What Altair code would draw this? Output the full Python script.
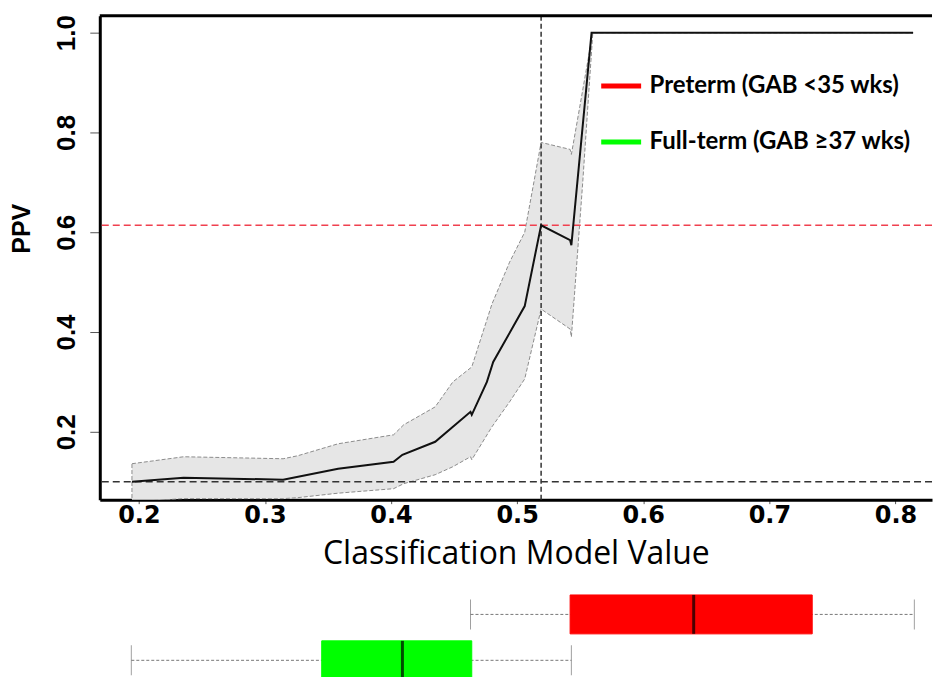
import altair as alt
import pandas as pd

# PPV curve against the classification model value
cmv = [0.1945, 0.2355, 0.3144, 0.358, 0.402, 0.409, 0.435, 0.463, 0.464,
       0.476, 0.481, 0.506, 0.519, 0.542, 0.543, 0.559, 0.814]
ppv = [0.100, 0.108, 0.104, 0.126, 0.140, 0.154, 0.180, 0.240, 0.234,
       0.300, 0.340, 0.452, 0.614, 0.584, 0.574, 1.000, 1.000]

# Confidence band around the PPV curve
band_cmv = [0.1945, 0.2355, 0.3144, 0.326, 0.358, 0.402, 0.410, 0.435, 0.449,
            0.463, 0.464, 0.480, 0.494, 0.506, 0.519, 0.542, 0.543, 0.552,
            0.560, 0.814]
band_hi = [0.136, 0.150, 0.146, 0.152, 0.176, 0.194, 0.214, 0.250, 0.300,
           0.328, 0.330, 0.456, 0.540, 0.600, 0.780, 0.766, 0.756, 0.885,
           1.000, 1.000]
band_lo = [0.060, 0.066, 0.066, 0.068, 0.077, 0.086, 0.096, 0.114, 0.130,
           0.150, 0.144, 0.210, 0.260, 0.306, 0.446, 0.406, 0.390, 0.700,
           1.000, 1.000]

# Reference lines
cmv_cutoff = [0.519]
ppv_cutoff = [0.614]
ppv_baseline = [0.100]

# Distribution of model values per group
groups = ["Preterm (GAB <35 wks)", "Full-term (GAB \u226537 wks)"]
group_colors = ["#ff0000", "#00ff00"]
box_low = [0.463, 0.194]
box_q1 = [0.542, 0.345]
box_med = [0.640, 0.409]
box_q3 = [0.734, 0.464]
box_high = [0.815, 0.543]

x_ticks = [0.2, 0.3, 0.4, 0.5, 0.6, 0.7, 0.8]
y_ticks = [0.2, 0.4, 0.6, 0.8, 1.0]

X_DOMAIN = [0.169, 0.829]
Y_DOMAIN = [0.064, 1.034]
W = 834
H = 485

curve_df = pd.DataFrame({"cmv": cmv, "ppv": ppv})
band_df = pd.DataFrame({"cmv": band_cmv, "hi": band_hi, "lo": band_lo})
box_df = pd.DataFrame({
    "group": groups, "low": box_low, "q1": box_q1, "med": box_med,
    "q3": box_q3, "high": box_high,
})

x_scale = alt.Scale(domain=X_DOMAIN, nice=False, zero=False)
y_scale = alt.Scale(domain=Y_DOMAIN, nice=False, zero=False)

x_axis = alt.Axis(
    values=x_ticks, format=".1f", title="Classification Model Value",
    labelFont="DejaVu Sans", labelFontWeight="bold", labelFontSize=24,
    labelColor="black", labelPadding=0, tickSize=4, tickColor="#555",
    titleFont="Open Sans", titleFontWeight="normal", titleFontSize=32,
    titleColor="black", titlePadding=11,
    domainColor="black", domainWidth=3, grid=False,
)
y_axis = alt.Axis(
    values=y_ticks, format=".1f", title="PPV", labelAngle=270,
    labelAlign="center", labelBaseline="bottom",
    labelFont="Liberation Sans", labelFontWeight="bold", labelFontSize=26,
    labelColor="black", labelPadding=10, tickSize=10, tickColor="#555",
    titleFont="Liberation Sans", titleFontWeight="bold", titleFontSize=25,
    titleColor="black", titlePadding=19, titleY=213,
    domainColor="black", domainWidth=3, grid=False,
)


def X(field):
    return alt.X(field, type="quantitative", scale=x_scale, axis=x_axis)


def Y(field):
    return alt.Y(field, type="quantitative", scale=y_scale, axis=y_axis)


band = alt.Chart(band_df).mark_area(
    clip=True, fill="#e6e6e6", stroke="#8c8c8c", strokeWidth=1, strokeDash=[4, 2]
).encode(x=X("cmv"), y=Y("hi"), y2="lo")

base_rule = alt.Chart(pd.DataFrame({"ppv": ppv_baseline})).mark_rule(
    color="#333333", strokeWidth=1.5, strokeDash=[7, 4]
).encode(y=Y("ppv"))

cut_rule_y = alt.Chart(pd.DataFrame({"ppv": ppv_cutoff})).mark_rule(
    color="#f0404f", strokeWidth=1.5, strokeDash=[7, 4]
).encode(y=Y("ppv"))

cut_rule_x = alt.Chart(pd.DataFrame({"cmv": cmv_cutoff})).mark_rule(
    color="#333333", strokeWidth=1.5, strokeDash=[5, 3]
).encode(x=X("cmv"))

curve = alt.Chart(curve_df).mark_line(
    clip=True, color="#111111", strokeWidth=2
).encode(x=X("cmv"), y=Y("ppv"))

# upper frame edge of the plot panel
top_edge = alt.Chart(pd.DataFrame({"e": [0]})).mark_rule(
    color="black", strokeWidth=3
).encode(x=alt.value(0), x2=alt.value(W), y=alt.value(0))

main = alt.layer(band, base_rule, cut_rule_y, cut_rule_x, curve, top_edge).properties(
    width=W, height=H, view=alt.ViewBackground(stroke="transparent")
)

color_scale = alt.Scale(domain=groups, range=group_colors)
box_y = alt.Y(
    "group:N",
    scale=alt.Scale(type="point", domain=groups, padding=0.4348, align=0.575),
    axis=None,
)
bx_scale = alt.Scale(domain=X_DOMAIN, nice=False, zero=False)


def BX(field):
    return alt.X(field, type="quantitative", scale=bx_scale, axis=None)


group_legend = alt.Legend(
    title=None, orient="none", legendX=500, legendY=48,
    symbolType="stroke", symbolSize=1600, symbolStrokeWidth=5,
    labelFont="Lato", labelFontWeight="bold", labelFontSize=24,
    labelColor="black", labelOffset=6, rowPadding=21, labelLimit=400,
)

whisker = alt.Chart(box_df).mark_rule(
    color="#777777", strokeWidth=1, strokeDash=[3, 2]
).encode(x=BX("low"), x2="high", y=box_y)
cap_low = alt.Chart(box_df).mark_tick(color="#777777", size=30, thickness=1).encode(
    x=BX("low"), y=box_y
)
cap_high = alt.Chart(box_df).mark_tick(color="#777777", size=30, thickness=1).encode(
    x=BX("high"), y=box_y
)
boxes = alt.Chart(box_df).mark_bar(height=39, strokeWidth=1).encode(
    x=BX("q1"), x2="q3", y=box_y,
    fill=alt.Fill("group:N", scale=color_scale, legend=group_legend),
    stroke=alt.Stroke("group:N", scale=color_scale, legend=group_legend),
)
medians = alt.Chart(box_df).mark_tick(color="black", size=39, thickness=3).encode(
    x=BX("med"), y=box_y
)

box_panel = alt.layer(whisker, cap_low, cap_high, boxes, medians).properties(
    width=W, height=86, view=alt.ViewBackground(stroke="transparent")
)

chart = alt.vconcat(main, box_panel, spacing=20).properties(
    padding={"left": 9, "top": 13, "right": 0, "bottom": 0}
).configure_view(stroke="transparent", strokeWidth=0).configure(background="white")

chart.save("out.html", embed_options={"renderer": "svg", "actions": False})
